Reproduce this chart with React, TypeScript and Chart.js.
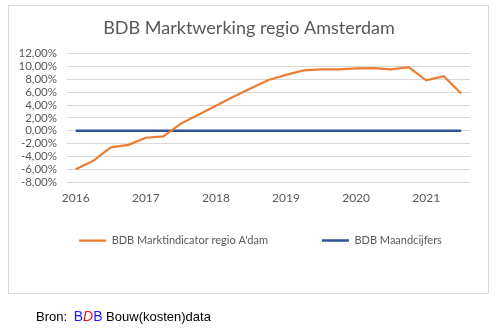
import React, { useEffect, useRef } from 'react';
import { Chart, registerables } from 'chart.js';

Chart.register(...registerables);

const TITLE = 'BDB Marktwerking regio Amsterdam';
const SERIES_A = 'BDB Marktindicator regio A\'dam';
const SERIES_B = 'BDB Maandcijfers';
const quarters = ['2016', '', '', '', '2017', '', '', '', '2018', '', '', '', '2019', '', '', '', '2020', '', '', '', '2021', '', ''];
const marktindicator = [-6.0, -4.7, -2.6, -2.2, -1.1, -0.9, 1.1, 2.5, 3.9, 5.3, 6.6, 7.9, 8.7, 9.4, 9.55, 9.55, 9.7, 9.75, 9.55, 9.9, 7.85, 8.5, 5.8];
const maandcijfers = [0, 0, 0, 0, 0, 0, 0, 0, 0, 0, 0, 0, 0, 0, 0, 0, 0, 0, 0, 0, 0, 0, 0];
const yMin = -8;
const yMax = 12;
const yStep = 2;

const FONT = 'Lato, "Open Sans", sans-serif';
const GREY = '#595959';

const legendShift = {
  id: 'legendShift',
  afterLayout(chart: any) {
    const l = chart.legend;
    if (!l) return;
    const dx = 11.5;
    const dy = -33.4;
    l.left += dx;
    l.right += dx;
    l.top += dy;
    l.bottom += dy;
  },
};

export default function App() {
  const ref = useRef<HTMLCanvasElement | null>(null);

  useEffect(() => {
    document.body.style.margin = '0';
    const canvas = ref.current;
    if (!canvas) return;
    const chart = new Chart(canvas, {
      type: 'line',
      data: {
        labels: quarters,
        datasets: [
          {
            label: SERIES_A,
            data: marktindicator,
            borderColor: '#ed7d31',
            backgroundColor: '#ed7d31',
            borderWidth: 2.25,
            pointRadius: 0,
            tension: 0,
          },
          {
            label: SERIES_B,
            data: maandcijfers,
            borderColor: '#2f5597',
            backgroundColor: '#2f5597',
            borderWidth: 2.5,
            pointRadius: 0,
            tension: 0,
          },
        ],
      },
      plugins: [legendShift],
      options: {
        responsive: false,
        animation: false,
        layout: { padding: { left: 0, right: 0, top: 0, bottom: 40.6 } },
        plugins: {
          title: {
            display: true,
            text: TITLE,
            color: GREY,
            font: { family: FONT, size: 18, weight: 'normal' },
            padding: { top: 17.4, bottom: 14.7 },
          },
          legend: {
            display: true,
            position: 'bottom',
            labels: {
              color: GREY,
              font: { family: FONT, size: 11 },
              usePointStyle: true,
              pointStyle: 'line',
              pointStyleWidth: 27,
              padding: 54,
            },
          },
          tooltip: { enabled: false },
        },
        scales: {
          x: {
            type: 'category',
            offset: true,
            grid: { display: false, drawTicks: false },
            border: { display: false },
            ticks: {
              autoSkip: false,
              maxRotation: 0,
              color: GREY,
              font: { family: FONT, size: 12 },
              padding: 9,
            },
          },
          y: {
            min: yMin,
            max: yMax,
            grid: { color: '#d9d9d9', lineWidth: 1, drawTicks: false },
            border: { display: false },
            ticks: {
              stepSize: yStep,
              autoSkip: false,
              color: GREY,
              font: { family: FONT, size: 11.5 },
              padding: 10,
              callback: (v: any) => Number(v).toFixed(2).replace('.', ',') + '%',
            },
            afterFit: (s: any) => {
              s.width = 67;
            },
          },
          y2: {
            position: 'right',
            display: true,
            grid: { display: false, drawTicks: false },
            border: { display: false },
            ticks: { display: false },
            afterFit: (s: any) => {
              s.width = 28;
            },
          },
        },
      },
    });
    return () => chart.destroy();
  }, []);

  return (
    <div style={{ position: 'relative', width: 498, height: 330, background: '#fff' }}>
      <div
        style={{
          position: 'absolute',
          left: 8,
          top: 5,
          width: 479,
          height: 287,
          border: '1px solid #d9d9d9',
          boxSizing: 'content-box',
        }}
      />
      <canvas ref={ref} width={498} height={330} style={{ position: 'absolute', left: 0, top: 0, width: 498, height: 330 }} />
      <div
        style={{
          position: 'absolute',
          left: 36,
          top: 307,
          fontFamily: '"Liberation Sans", Arial, sans-serif',
          fontSize: 13,
          color: '#000',
          whiteSpace: 'nowrap',
          lineHeight: '18px',
        }}
      >
        <span>Bron: </span>
        <span style={{ color: '#1a1aff', marginLeft: 3, fontSize: 14 }}>B</span>
        <span style={{ color: '#e8101a', fontStyle: 'italic', fontSize: 14 }}>D</span>
        <span style={{ color: '#1a1aff', fontSize: 14 }}>B</span>
        <span> Bouw(kosten)data</span>
      </div>
    </div>
  );
}
